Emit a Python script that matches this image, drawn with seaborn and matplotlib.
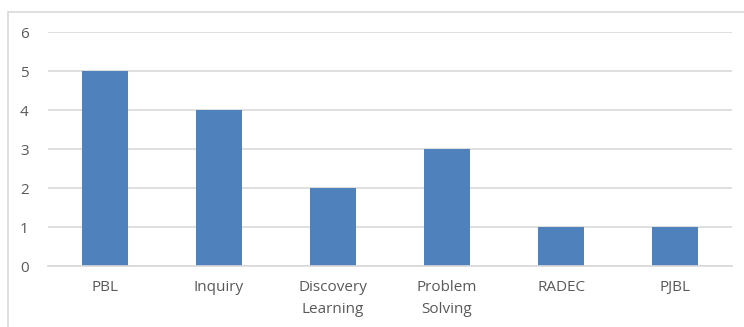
import matplotlib
matplotlib.use('Agg')
import matplotlib.pyplot as plt
import seaborn as sns
import pandas as pd
from matplotlib.patches import Rectangle

# data
methods = ['PBL', 'Inquiry', 'Discovery\nLearning', 'Problem\nSolving', 'RADEC', 'PJBL']
counts = [5, 4, 2, 3, 1, 1]
y_ticks = [0, 1, 2, 3, 4, 5, 6]

df = pd.DataFrame({'method': methods, 'count': counts})

sns.set_theme(style='white')
plt.rcParams['font.family'] = ['Open Sans', 'DejaVu Sans']

fig = plt.figure(figsize=(7.44, 3.27), dpi=100)
ax = fig.add_axes([0.0645, 0.1865, 0.9195, 0.7155])

sns.barplot(data=df, x='method', y='count', color='#4F81BD', saturation=1,
            width=0.40, linewidth=0, ax=ax)

ax.set_ylim(0, 6)
ax.set_yticks(y_ticks)
ax.yaxis.grid(True, color='#D9D9D9', linewidth=1.2)
ax.set_axisbelow(True)
for s in ['top', 'right', 'left']:
    ax.spines[s].set_visible(False)
ax.spines['bottom'].set_color('#D9D9D9')
ax.spines['bottom'].set_linewidth(1.2)
ax.set_xlabel('')
ax.set_ylabel('')
ax.tick_params(axis='both', length=0, labelsize=11, labelcolor='#595959')
ax.tick_params(axis='y', pad=14)
ax.tick_params(axis='x', pad=10)
for lbl in ax.get_xticklabels():
    lbl.set_linespacing(1.6)

# outer chart border (Excel style)
fig.patches.append(Rectangle((8 / 744, -0.05), 1.0, 1 - 12 / 327 + 0.05,
                             transform=fig.transFigure, fill=False,
                             edgecolor='#D9D9D9', linewidth=1.2))

fig.savefig('out.png', dpi=100)
